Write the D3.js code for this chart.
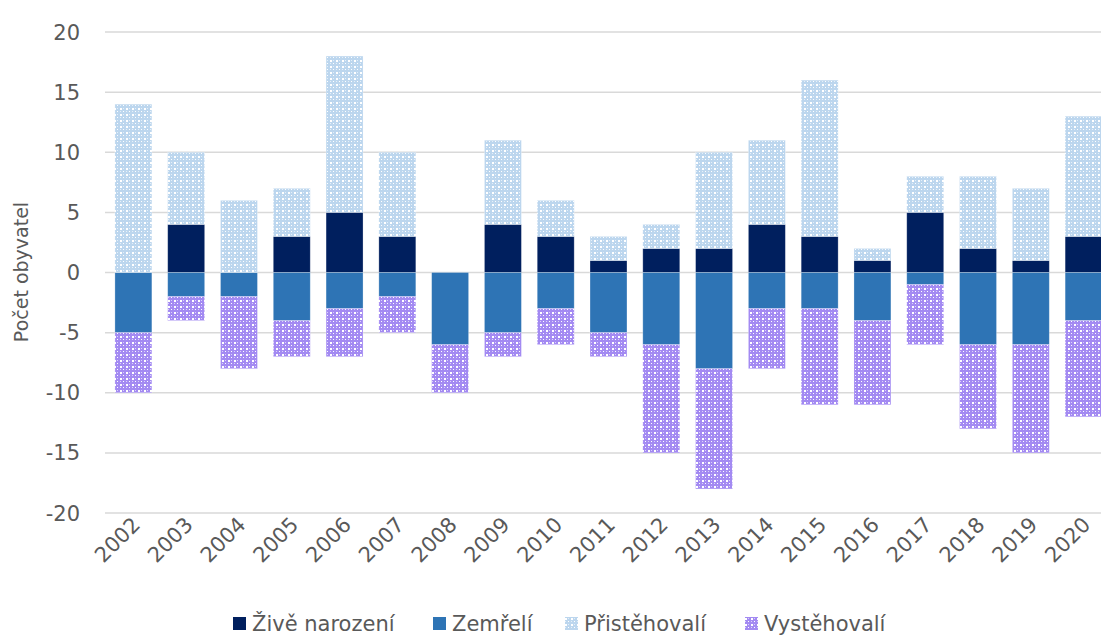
<!DOCTYPE html>
<html>
<head>
<meta charset="utf-8">
<script src="https://cdn.jsdelivr.net/npm/d3@7"></script>
<style>
  body { margin: 0; background: #fff; }
  svg { display: block; font-family: "DejaVu Sans", sans-serif; }
</style>
</head>
<body>
<svg id="chart" width="1101" height="637"></svg>
<script>
// roky a hodnoty
var years = ["2002","2003","2004","2005","2006","2007","2008","2009","2010","2011",
             "2012","2013","2014","2015","2016","2017","2018","2019","2020"];
var births = [0, 4, 0, 3, 5, 3, 0, 4, 3, 1, 2, 2, 4, 3, 1, 5, 2, 1, 3];
var deaths = [-5, -2, -2, -4, -3, -2, -6, -5, -3, -5, -6, -8, -3, -3, -4, -1, -6, -6, -4];
var immig  = [14, 6, 6, 4, 13, 7, 0, 7, 3, 2, 2, 8, 7, 13, 1, 3, 6, 6, 10];
var emig   = [-5, -2, -6, -3, -4, -3, -4, -2, -3, -2, -9, -10, -5, -8, -7, -5, -7, -9, -8];
var yTicks = [-20, -15, -10, -5, 0, 5, 10, 15, 20];
var seriesNames = ["Živě narození", "Zemřelí", "Přistěhovalí", "Vystěhovalí"];

var keys = ["births", "deaths", "immig", "emig"];
var rows = years.map(function(y, i){
    return {year: y, births: births[i], deaths: deaths[i], immig: immig[i], emig: emig[i]};
});

var svg = d3.select("#chart");
var textColor = "#595959";

var x = d3.scaleBand().domain(years).range([107, 1110]).paddingInner(0.3).paddingOuter(0.15);
var y = d3.scaleLinear().domain([-20, 20]).range([513, 32]);

// vzorky (šrafy) pro migraci
var defs = svg.append("defs");
function makePattern(id, color) {
    var p = defs.append("pattern").attr("id", id)
        .attr("width", 6).attr("height", 6).attr("patternUnits", "userSpaceOnUse");
    p.append("rect").attr("width", 6).attr("height", 6).attr("fill", color);
    p.append("rect").attr("x", 0).attr("y", 0).attr("width", 2).attr("height", 2).attr("fill", "#fff");
    p.append("rect").attr("x", 3).attr("y", 3).attr("width", 1).attr("height", 1).attr("fill", "#fff");
    p.append("rect").attr("x", 3).attr("y", 0).attr("width", 1).attr("height", 1).attr("fill", "#fff").attr("opacity", 0.6);
    p.append("rect").attr("x", 0).attr("y", 3).attr("width", 1).attr("height", 1).attr("fill", "#fff").attr("opacity", 0.6);
}
makePattern("pImmig", "#bcd6ee");
makePattern("pEmig", "#a38af2");

var fills = {
    births: "#001f5e",
    deaths: "#2e74b5",
    immig: "url(#pImmig)",
    emig: "url(#pEmig)"
};

// mřížka
svg.append("g").selectAll("line").data(yTicks).enter().append("line")
    .attr("x1", 105).attr("x2", 1101)
    .attr("y1", function(d){ return y(d); }).attr("y2", function(d){ return y(d); })
    .attr("stroke", "#d9d9d9").attr("stroke-width", 1.5);

// popisky osy y
svg.append("g").selectAll("text").data(yTicks).enter().append("text")
    .attr("x", 80).attr("y", function(d){ return y(d); })
    .attr("dy", "0.36em").attr("text-anchor", "end")
    .attr("font-size", 21).attr("fill", textColor)
    .text(function(d){ return d; });

svg.append("text")
    .attr("transform", "translate(28,272) rotate(-90)")
    .attr("text-anchor", "middle").attr("font-size", 19).attr("fill", textColor)
    .text("Počet obyvatel");

// sloupce
var stack = d3.stack().keys(keys).offset(d3.stackOffsetDiverging);
var layers = stack(rows);

svg.append("g").selectAll("g").data(layers).enter().append("g")
    .attr("fill", function(d){ return fills[d.key]; })
    .selectAll("rect").data(function(d){ return d; }).enter().append("rect")
    .attr("x", function(d){ return x(d.data.year); })
    .attr("width", x.bandwidth())
    .attr("y", function(d){ return y(Math.max(d[0], d[1])); })
    .attr("height", function(d){ return Math.abs(y(d[0]) - y(d[1])); })
    .attr("stroke", "#ffffff").attr("stroke-opacity", 0.35).attr("stroke-width", 0.75);

// popisky osy x
svg.append("g").selectAll("text").data(years).enter().append("text")
    .attr("transform", function(d){
        return "translate(" + (x(d) + x.bandwidth() / 2 + 8) + ",526) rotate(-45)";
    })
    .attr("text-anchor", "end").attr("font-size", 21).attr("fill", textColor)
    .text(function(d){ return d; });

// legenda
var legendX = [233, 433, 565, 745];
var legend = svg.append("g").selectAll("g").data(keys).enter().append("g")
    .attr("transform", function(d, i){ return "translate(" + legendX[i] + ",0)"; });
legend.append("rect").attr("x", 0).attr("y", 617).attr("width", 13).attr("height", 13)
    .attr("fill", function(d){ return fills[d]; });
legend.append("text").attr("x", 19).attr("y", 631)
    .attr("font-size", 21).attr("fill", textColor)
    .text(function(d, i){ return seriesNames[i]; });
</script>
</body>
</html>
